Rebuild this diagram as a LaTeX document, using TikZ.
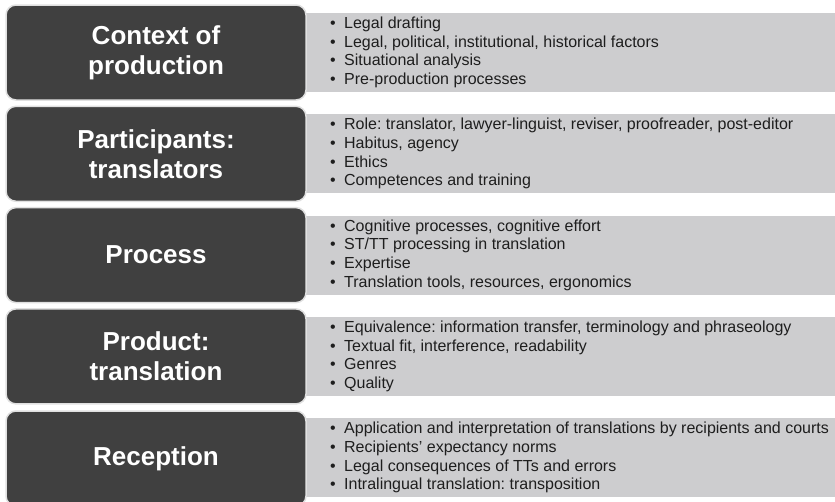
\documentclass[tikz,border=0pt]{standalone}
\usepackage{fontspec}
\setmainfont{Liberation Sans}
\usetikzlibrary{positioning}
\definecolor{cdark}{HTML}{404040}
\definecolor{cedge}{HTML}{E0E0E0}
\definecolor{cband}{HTML}{CDCDCF}
\definecolor{ctext}{HTML}{1E1E1E}
\tikzset{
  every picture/.style={x=1pt, y=1pt},
  topic/.style={draw=cedge, fill=cdark, line width=1.5pt, rounded corners=10pt,
    minimum width=300pt, minimum height=95pt, align=center, text=white,
    font=\fontsize{26}{30}\selectfont\bfseries},
  band/.style={fill=cband, minimum width=545pt, minimum height=79pt, inner sep=0pt, anchor=west},
  items/.style={anchor=west, align=left, inner sep=0pt, text=ctext,
    font=\fontsize{16}{18.7}\selectfont},
}
\newcommand{\itm}[1]{\makebox[14pt][l]{\textbullet}#1}
\frenchspacing

\begin{document}
\begin{tikzpicture}
  \useasboundingbox (0,0) rectangle (835,-501);
  % grey bands go first, the dark boxes sit on top of them
  \node[band] (ctxband) at (290,-52.5) {};
  \node[band] (ptcband) at (290,-153.8) {};
  \node[band] (procband) at (290,-255.1) {};
  \node[band] (prodband) at (290,-356.4) {};
  \node[band] (recband) at (290,-457.7) {};
  \node[topic] (ctx) at (156,-52.5) {Context of\\production};
  \node[topic] (ptc) at (156,-153.8) {Participants:\\translators};
  \node[topic] (proc) at (156,-255.1) {Process};
  \node[topic] (prod) at (156,-356.4) {Product:\\translation};
  \node[topic] (rec) at (156,-458.5) {Reception};
  \node[items] (ctxitems) at ([xshift=40pt]ctxband.west) {\itm{Legal drafting}\\
    \itm{Legal, political, institutional, historical factors}\\
    \itm{Situational analysis}\\
    \itm{Pre-production processes}};
  \node[items] (ptcitems) at ([xshift=40pt]ptcband.west) {\itm{Role: translator, lawyer-linguist, reviser, proofreader, post-editor}\\
    \itm{Habitus, agency}\\
    \itm{Ethics}\\
    \itm{Competences and training}};
  \node[items] (procitems) at ([xshift=40pt]procband.west) {\itm{Cognitive processes, cognitive effort}\\
    \itm{ST/TT processing in translation}\\
    \itm{Expertise}\\
    \itm{Translation tools, resources, ergonomics}};
  \node[items] (proditems) at ([xshift=40pt]prodband.west) {\itm{Equivalence: information transfer, terminology and phraseology}\\
    \itm{Textual fit, interference, readability}\\
    \itm{Genres}\\
    \itm{Quality}};
  \node[items] (recitems) at ([xshift=40pt]recband.west) {\itm{Application and interpretation of translations by recipients and courts}\\
    \itm{Recipients' expectancy norms}\\
    \itm{Legal consequences of TTs and errors}\\
    \itm{Intralingual translation: transposition}};
\end{tikzpicture}
\end{document}
